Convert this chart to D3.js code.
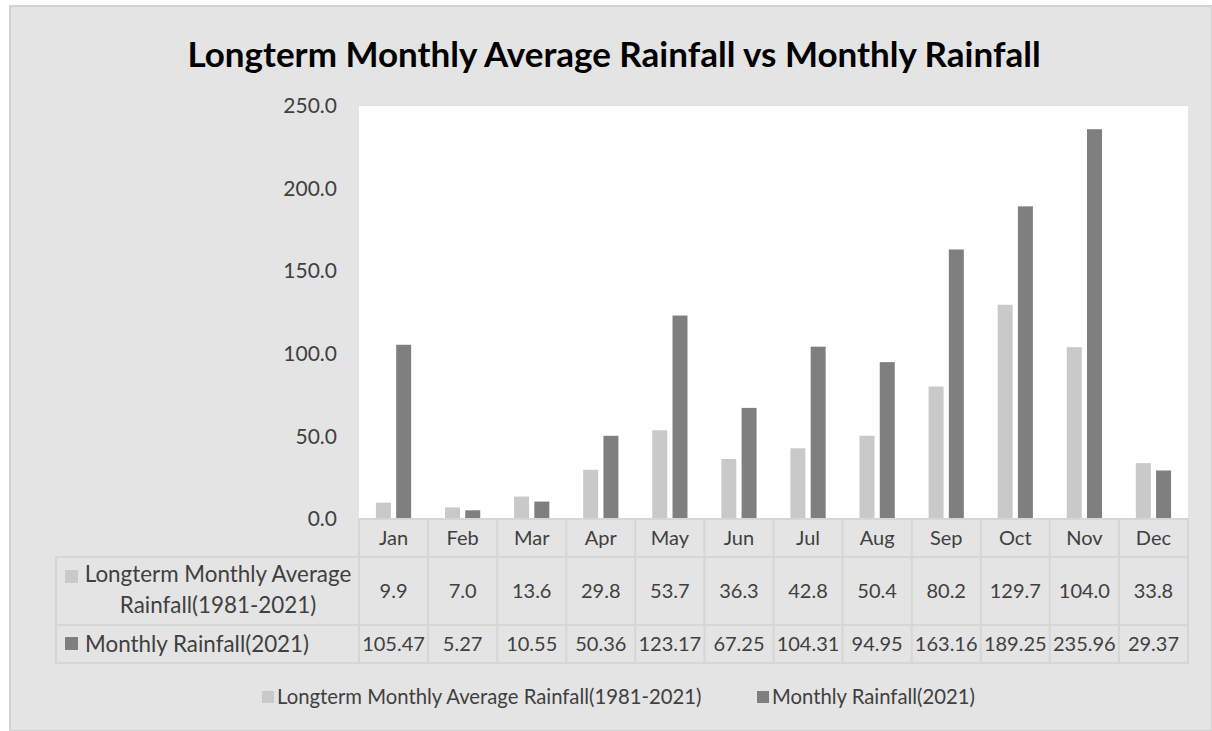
<!DOCTYPE html>
<html>
<head>
<meta charset="utf-8">
<script src="https://cdn.jsdelivr.net/npm/d3@7/dist/d3.min.js"></script>
<style>
  body { margin: 0; background: #ffffff; }
  svg text { font-family: Lato, "Open Sans", sans-serif; fill: #404040; }
</style>
</head>
<body>
<div class="chart"></div>
<script>
// data
var months = ["Jan","Feb","Mar","Apr","May","Jun","Jul","Aug","Sep","Oct","Nov","Dec"];
var seriesNames = ["Longterm Monthly Average Rainfall(1981-2021)", "Monthly Rainfall(2021)"];
var longterm = [9.9, 7.0, 13.6, 29.8, 53.7, 36.3, 42.8, 50.4, 80.2, 129.7, 104.0, 33.8];
var rain2021 = [105.47, 5.27, 10.55, 50.36, 123.17, 67.25, 104.31, 94.95, 163.16, 189.25, 235.96, 29.37];
var yTicks = [0, 50, 100, 150, 200, 250];
var colors = ["#c9c9c9", "#7f7f7f"];

// declaring sizes
var svgx = 1212;
var svgy = 731;
var plot = {left: 359, right: 1188, top: 106, bottom: 519};
var rows = {head: 557, r1: 625, r2: 663, labelLeft: 56};

var svg = d3.select(".chart")
    .append("svg")
    .attr("width", svgx)
    .attr("height", svgy);

// outer background
svg.append("rect")
    .attr("x", 10).attr("y", 6)
    .attr("width", svgx - 10).attr("height", svgy - 6)
    .attr("fill", "#e4e4e4")
    .attr("stroke", "#d2d2d2")
    .attr("stroke-width", 2);

// plot area
svg.append("rect")
    .attr("x", plot.left).attr("y", plot.top)
    .attr("width", plot.right - plot.left).attr("height", plot.bottom - plot.top)
    .attr("fill", "#ffffff");

// title
svg.append("text")
    .attr("x", 614)
    .attr("y", 67)
    .attr("text-anchor", "middle")
    .attr("font-size", "35px")
    .attr("font-weight", "bold")
    .style("fill", "#000000")
    .text("Longterm Monthly Average Rainfall vs Monthly Rainfall");

// scales
var x0 = d3.scaleBand()
    .domain(months)
    .range([plot.left, plot.right])
    .paddingInner(0.49)
    .paddingOuter(0.245);
var x1 = d3.scaleBand()
    .domain([0, 1])
    .range([0, x0.bandwidth()])
    .paddingInner(0.26);
var cols = d3.scaleBand()
    .domain(months)
    .range([plot.left, plot.right]);
var yscale = d3.scaleLinear()
    .domain([0, 250])
    .range([plot.bottom, plot.top]);

// y axis labels
var yaxis = d3.axisLeft(yscale)
    .tickValues(yTicks)
    .tickFormat(d3.format(".1f"))
    .tickSize(0)
    .tickPadding(0);
var yg = svg.append("g")
    .attr("transform", "translate(337,0)")
    .call(yaxis);
yg.select(".domain").remove();
yg.selectAll("text")
    .attr("font-size", "21px")
    .attr("font-family", "Lato, sans-serif")
    .attr("fill", "#595959");

// bars
var dataset = months.map(function(m, i) {
    return {month: m, values: [longterm[i], rain2021[i]]};
});
var groups = svg.selectAll(".grp")
    .data(dataset)
    .enter()
    .append("g")
    .attr("transform", function(d) { return "translate(" + x0(d.month) + ",0)"; });
groups.selectAll("rect")
    .data(function(d) { return d.values.map(function(v, k) { return {k: k, v: v}; }); })
    .enter()
    .append("rect")
    .attr("x", function(d) { return x1(d.k); })
    .attr("y", function(d) { return yscale(d.v); })
    .attr("width", x1.bandwidth())
    .attr("height", function(d) { return yscale(0) - yscale(d.v); })
    .attr("fill", function(d) { return colors[d.k]; });

// data table
var grid = svg.append("g")
    .attr("stroke", "#d6d6d6")
    .attr("stroke-width", 2)
    .attr("fill", "none");
grid.append("rect")
    .attr("x", plot.left).attr("y", plot.bottom)
    .attr("width", plot.right - plot.left).attr("height", rows.r2 - plot.bottom);
grid.append("rect")
    .attr("x", rows.labelLeft).attr("y", rows.head)
    .attr("width", plot.right - rows.labelLeft).attr("height", rows.r2 - rows.head);
grid.append("line")
    .attr("x1", rows.labelLeft).attr("x2", plot.right)
    .attr("y1", rows.r1).attr("y2", rows.r1);
grid.selectAll(".vline")
    .data(months.slice(1))
    .enter()
    .append("line")
    .attr("x1", function(d) { return cols(d); })
    .attr("x2", function(d) { return cols(d); })
    .attr("y1", plot.bottom).attr("y2", rows.r2);

var cellText = function(sel, y) {
    sel.attr("x", function(d, i) { return cols(months[i]) + cols.bandwidth() / 2; })
        .attr("y", y)
        .attr("dy", "0.36em")
        .attr("text-anchor", "middle")
        .attr("font-size", "20px");
};
svg.append("g").selectAll("text").data(months).enter().append("text")
    .call(cellText, (plot.bottom + rows.head) / 2)
    .text(function(d) { return d; });
svg.append("g").selectAll("text").data(longterm).enter().append("text")
    .call(cellText, (rows.head + rows.r1) / 2)
    .text(d3.format(".1f"));
svg.append("g").selectAll("text").data(rain2021).enter().append("text")
    .call(cellText, (rows.r1 + rows.r2) / 2)
    .text(d3.format(".2f"));

// row labels with legend keys
svg.append("rect")
    .attr("x", 65).attr("y", 570).attr("width", 13).attr("height", 13)
    .attr("fill", colors[0]);
svg.append("text")
    .attr("x", 218).attr("y", 582)
    .attr("text-anchor", "middle")
    .attr("font-size", "22.4px")
    .text("Longterm Monthly Average");
svg.append("text")
    .attr("x", 218).attr("y", 613)
    .attr("text-anchor", "middle")
    .attr("font-size", "22.4px")
    .text("Rainfall(1981-2021)");
svg.append("rect")
    .attr("x", 65).attr("y", 637).attr("width", 13).attr("height", 13)
    .attr("fill", colors[1]);
svg.append("text")
    .attr("x", 85).attr("y", 644)
    .attr("dy", "0.36em")
    .attr("font-size", "22.4px")
    .text(seriesNames[1]);

// legend
var legendX = [262, 757];
var legend = svg.selectAll(".legend")
    .data(seriesNames)
    .enter()
    .append("g")
    .attr("transform", function(d, i) { return "translate(" + legendX[i] + ",697)"; });
legend.append("rect")
    .attr("x", 0).attr("y", -6)
    .attr("width", 12).attr("height", 12)
    .attr("fill", function(d, i) { return colors[i]; });
legend.append("text")
    .attr("x", 15)
    .attr("dy", "0.36em")
    .attr("font-size", "20.3px")
    .text(function(d) { return d; });
</script>
</body>
</html>
